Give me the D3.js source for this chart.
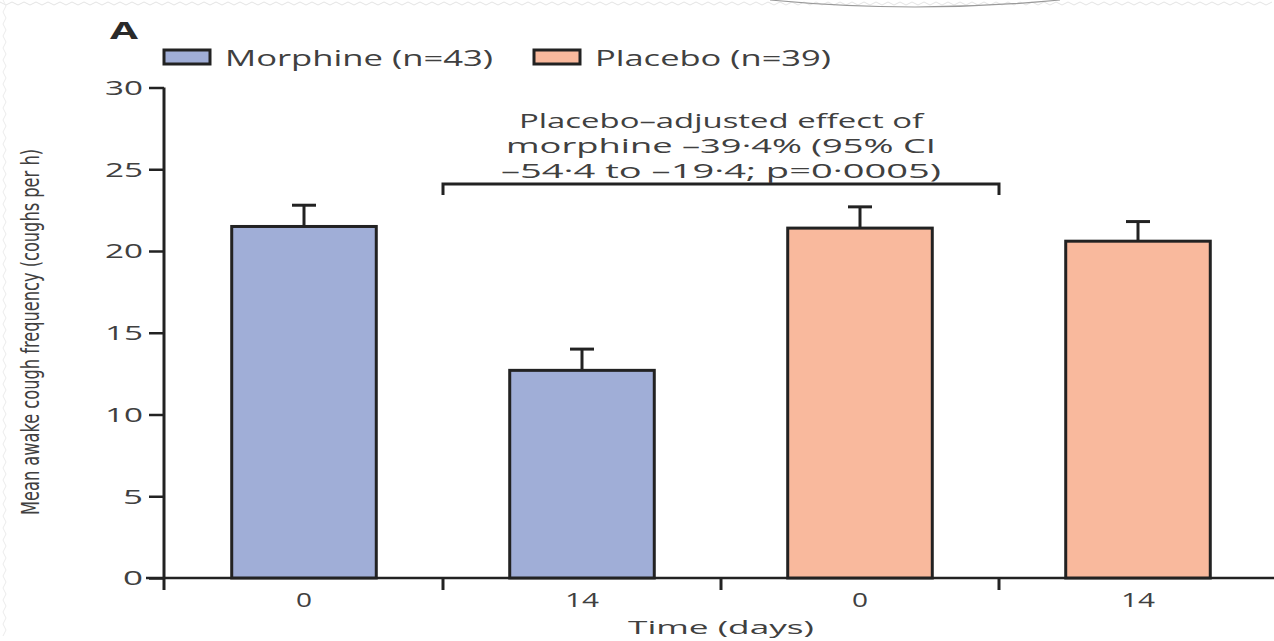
<!DOCTYPE html>
<html><head><meta charset="utf-8">
<script src="https://cdn.jsdelivr.net/npm/d3@7"></script>
<style>html,body{margin:0;padding:0;background:#fff;}svg{display:block;}</style>
</head><body>
<svg id="chart" width="1274" height="641"></svg>
<script>
// ---- data ----
const seriesNames = ["Morphine (n=43)", "Placebo (n=39)"];
const categories = ["Morphine day 0", "Morphine day 14", "Placebo day 0", "Placebo day 14"];
const timeLabels = ["0", "14", "0", "14"];
const seriesOfBar = ["Morphine (n=43)", "Morphine (n=43)", "Placebo (n=39)", "Placebo (n=39)"];
const meanValues = [21.5, 12.7, 21.4, 20.6];
const upperError = [22.8, 14.0, 22.7, 21.8];
const yTickValues = [0, 5, 10, 15, 20, 25, 30];
const annotationLines = ["Placebo–adjusted effect of", "morphine –39·4% (95% CI", "–54·4 to –19·4; p=0·0005)"];
const bracketValue = 24.1;

// ---- setup ----
const svg = d3.select("#chart");
const ink = "#222", textCol = "#404040";
const font = "'Open Sans', 'Noto Sans', sans-serif";
const color = d3.scaleOrdinal().domain(seriesNames).range(["#a0aed7", "#f9b99d"]);

const x = d3.scaleBand().domain(categories).range([165, 1277]).paddingInner(0.48).paddingOuter(0.24);
const y = d3.scaleLinear().domain([0, 30]).range([578, 87.5]);

function txt(g, s, px, py, size, len, anchor) {
  const t = g.append("text").attr("x", px).attr("y", py).text(s)
    .attr("font-family", font).attr("font-size", size).attr("fill", textCol)
    .attr("text-anchor", anchor || "start");
  if (len) t.attr("textLength", len).attr("lengthAdjust", "spacingAndGlyphs");
  return t;
}

// decorative frame (faint zigzag border + arc at top)
const zz = d3.range(0, 1274, 6).map((v, i) => [v, 3 + (i % 2 ? 2 : -1)]);
svg.append("path").attr("d", d3.line()(zz)).attr("fill", "none").attr("stroke", "#e4e4e4").attr("stroke-width", 1);
const zl = d3.range(0, 641, 6).map((v, i) => [4 + (i % 2 ? 2 : -1), v]);
svg.append("path").attr("d", d3.line()(zl)).attr("fill", "none").attr("stroke", "#ececec").attr("stroke-width", 1);
svg.append("path").attr("d", "M770,0 Q915,14 1060,0").attr("fill", "none").attr("stroke", "#9a9a9a").attr("stroke-width", 1.2);

// panel letter
svg.append("text").attr("x", 110).attr("y", 39).text("A")
  .attr("font-family", font).attr("font-size", 24).attr("font-weight", "bold").attr("fill", "#2a2a2a")
  .attr("textLength", 28).attr("lengthAdjust", "spacingAndGlyphs");

// legend
const legendX = [164, 534], legendTextLen = [268, 236];
seriesNames.forEach((s, i) => {
  svg.append("rect").attr("x", legendX[i]).attr("y", 50).attr("width", 46).attr("height", 14)
    .attr("fill", color(s)).attr("stroke", ink).attr("stroke-width", 3);
  txt(svg, s, legendX[i] + 61, 66, 21, legendTextLen[i]);
});

// axes
const yAxis = d3.axisLeft(y).tickValues(yTickValues).tickSize(15).tickPadding(6);
const gy = svg.append("g").attr("transform", "translate(164,0)").call(yAxis);
gy.select(".domain").remove();
gy.selectAll(".tick line").attr("stroke", ink).attr("stroke-width", 2.5);
gy.selectAll(".tick text").attr("font-family", font).attr("font-size", 20).attr("fill", textCol)
  .attr("dy", "0.34em").attr("textLength", 38).attr("lengthAdjust", "spacingAndGlyphs")
  .each(function(d){ if (d === 0 || d === 5) d3.select(this).attr("textLength", 20); });
svg.append("line").attr("x1", 164).attr("x2", 164).attr("y1", y(30)).attr("y2", 590)
  .attr("stroke", ink).attr("stroke-width", 3);
svg.append("line").attr("x1", 146).attr("x2", 1274).attr("y1", y(0)).attr("y2", y(0))
  .attr("stroke", ink).attr("stroke-width", 2.5);

// x boundary ticks
const step = x.step(), bw = x.bandwidth();
const boundaries = categories.slice(0, 3).map(c => x(c) + bw + (step - bw) / 2);
svg.selectAll(".xb").data(boundaries).join("line")
  .attr("x1", d => d).attr("x2", d => d).attr("y1", y(0)).attr("y2", y(0) + 12)
  .attr("stroke", ink).attr("stroke-width", 3);

// x labels
categories.forEach((c, i) => {
  txt(svg, timeLabels[i], x(c) + bw / 2, 607, 20, timeLabels[i].length === 1 ? 16 : 34, "middle");
});
txt(svg, "Time (days)", 721, 634, 18, 186, "middle");

// y label
svg.append("text").attr("transform", "translate(39,332) rotate(-90)").text("Mean awake cough frequency (coughs per h)")
  .attr("font-family", "'Liberation Sans Narrow', 'DejaVu Sans Condensed', sans-serif").attr("font-size", 24)
  .attr("fill", textCol).attr("text-anchor", "middle")
  .attr("textLength", 366).attr("lengthAdjust", "spacingAndGlyphs");

// error bars
categories.forEach((c, i) => {
  const cx = x(c) + bw / 2;
  svg.append("line").attr("x1", cx).attr("x2", cx).attr("y1", y(meanValues[i])).attr("y2", y(upperError[i]))
    .attr("stroke", ink).attr("stroke-width", 3);
  svg.append("line").attr("x1", cx - 12).attr("x2", cx + 12).attr("y1", y(upperError[i])).attr("y2", y(upperError[i]))
    .attr("stroke", ink).attr("stroke-width", 3);
});

// bars
svg.selectAll(".bar").data(categories).join("rect")
  .attr("x", c => x(c)).attr("width", bw)
  .attr("y", (c, i) => y(meanValues[i])).attr("height", (c, i) => y(0) - y(meanValues[i]))
  .attr("fill", (c, i) => color(seriesOfBar[i])).attr("stroke", ink).attr("stroke-width", 3);

// bracket + annotation
const by = y(bracketValue);
svg.append("path").attr("d", `M${boundaries[0]},${by + 11}V${by}H${boundaries[2]}V${by + 11}`)
  .attr("fill", "none").attr("stroke", ink).attr("stroke-width", 3);
const annLen = [404, 430, 440];
annotationLines.forEach((l, i) => txt(svg, l, 721, 128 + i * 25, 20, annLen[i], "middle"));
</script>
</body></html>
